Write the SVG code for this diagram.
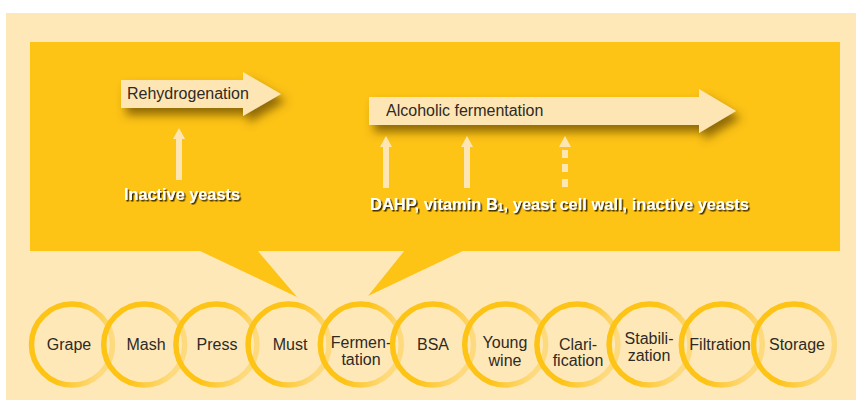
<svg xmlns="http://www.w3.org/2000/svg" width="856" height="402" viewBox="0 0 856 402">
<style>
.lbl{font-family:"Liberation Sans",Arial,sans-serif;font-size:16px;fill:#2e2a25;text-anchor:middle}
.arr{font-family:"Liberation Sans",Arial,sans-serif;font-size:16px;fill:#2e2a25}
.wt{font-family:"Liberation Sans",Arial,sans-serif;font-size:16px;font-weight:bold;fill:#ffffff;filter:url(#ts)}
.big{fill:#FEE6B4;filter:url(#sh)}
.ring{fill:none;stroke:url(#rg);stroke-width:5.5}
.up{fill:#FEE6B4}
</style>
<defs>
<filter id="sh" x="-20%" y="-50%" width="150%" height="250%">
<feDropShadow dx="5" dy="7" stdDeviation="5" flood-color="#6b4e00" flood-opacity="0.75"/>
</filter>
<filter id="ts" x="-5%" y="-30%" width="110%" height="160%">
<feDropShadow dx="1.5" dy="1.5" stdDeviation="0.5" flood-color="#2e2200" flood-opacity="0.95"/>
</filter>
<linearGradient id="rg" x1="0" y1="0" x2="1" y2="0.3">
<stop offset="0" stop-color="#FDC315"/>
<stop offset="0.55" stop-color="#FDC315"/>
<stop offset="1" stop-color="#FDDA7E"/>
</linearGradient>
</defs>
<rect x="6" y="13" width="850" height="387" fill="#FEE8B8"/>
<g id="panel">
<rect x="30" y="42" width="810" height="209" fill="#FDC315"/>
<polygon points="198,250 257,250 297,297" fill="#FDC315"/>
<polygon points="405,250 465,250 368,296" fill="#FDC315"/>
</g>
<g id="rehydrogenation">
<polygon class="big" points="121,80 243,80 243,72 281,94 243,116 243,108 121,108"/>
<text class="arr" x="127" y="99">Rehydrogenation</text>
</g>
<g id="alcoholic-fermentation">
<polygon class="big" points="369,97 699,97 699,89 736,111 699,133 699,125 369,125"/>
<text class="arr" x="386" y="116">Alcoholic fermentation</text>
</g>
<g id="inactive-yeasts">
<text class="wt" x="124" y="200" textLength="116" lengthAdjust="spacingAndGlyphs">Inactive yeasts</text>
</g>
<g id="additives">
<text class="wt" x="370" y="210" textLength="379" lengthAdjust="spacingAndGlyphs">DAHP, vitamin B<tspan font-size="10" dy="1">1</tspan><tspan dy="-1">, yeast cell wall, inactive yeasts</tspan></text>
</g>
<g id="connectors">
<polygon class="up" points="176,180 182,180 182,139 185,139 179,128 173,139 176,139"/>
<polygon class="up" points="383,188 389,188 389,147 392,147 386,136 380,147 383,147"/>
<polygon class="up" points="464,188 470,188 470,147 473,147 467,136 461,147 464,147"/>
<polygon class="up" points="559,147 571,147 565,136"/>
<rect class="up" x="562" y="150" width="6" height="8"/>
<rect class="up" x="562" y="164" width="6" height="8"/>
<rect class="up" x="562" y="179" width="6" height="8"/>
</g>
<g id="steps">
<g id="grape"><circle class="ring" cx="72" cy="344.5" r="40.5"/><text class="lbl" x="69" y="350">Grape</text></g>
<g id="mash"><circle class="ring" cx="144.2" cy="344.5" r="40.5"/><text class="lbl" x="146" y="350">Mash</text></g>
<g id="press"><circle class="ring" cx="216.4" cy="344.5" r="40.5"/><text class="lbl" x="217" y="350">Press</text></g>
<g id="must"><circle class="ring" cx="288.6" cy="344.5" r="40.5"/><text class="lbl" x="290" y="350">Must</text></g>
<g id="fermentation"><circle class="ring" cx="360.8" cy="344.5" r="40.5"/><text class="lbl" x="361" y="348">Fermen-</text><text class="lbl" x="361" y="365">tation</text></g>
<g id="bsa"><circle class="ring" cx="433" cy="344.5" r="40.5"/><text class="lbl" x="433" y="350">BSA</text></g>
<g id="young-wine"><circle class="ring" cx="505.2" cy="344.5" r="40.5"/><text class="lbl" x="505" y="348">Young</text><text class="lbl" x="505" y="366">wine</text></g>
<g id="clarification"><circle class="ring" cx="577.4" cy="344.5" r="40.5"/><text class="lbl" x="578" y="350">Clari-</text><text class="lbl" x="578" y="366">fication</text></g>
<g id="stabilization"><circle class="ring" cx="649.6" cy="344.5" r="40.5"/><text class="lbl" x="649" y="344">Stabili-</text><text class="lbl" x="649" y="361">zation</text></g>
<g id="filtration"><circle class="ring" cx="721.8" cy="344.5" r="40.5"/><text class="lbl" x="720" y="350">Filtration</text></g>
<g id="storage"><circle class="ring" cx="794" cy="344.5" r="40.5"/><text class="lbl" x="797" y="350">Storage</text></g>
</g>
</svg>
